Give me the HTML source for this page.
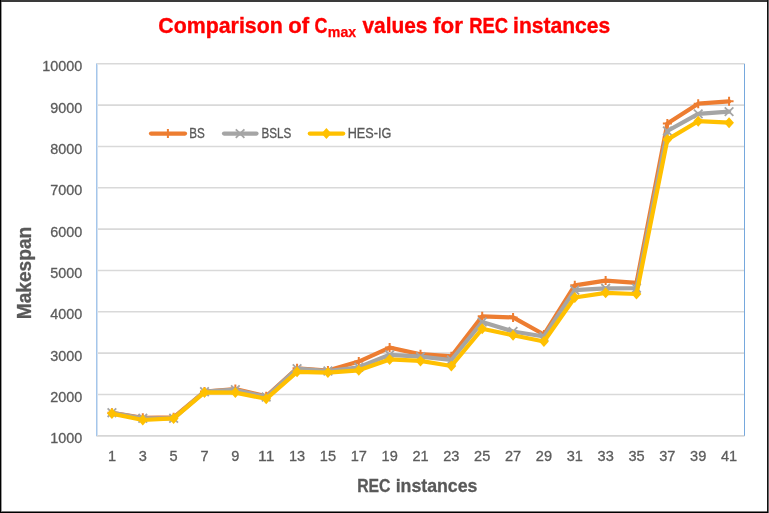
<!DOCTYPE html>
<html><head><meta charset="utf-8"><title>Comparison of Cmax values for REC instances</title>
<style>
html,body{margin:0;padding:0;background:#fff;}
body{width:769px;height:513px;overflow:hidden;}
svg{display:block;}
text{font-family:"Liberation Sans",Arial,sans-serif;}
</style></head><body>
<svg width="769" height="513" viewBox="0 0 769 513">
<rect x="0" y="0" width="769" height="513" fill="#ffffff"/>

<line x1="96.5" y1="394.47" x2="744.5" y2="394.47" stroke="#D9D9D9" stroke-width="1.6"/>
<line x1="96.5" y1="353.13" x2="744.5" y2="353.13" stroke="#D9D9D9" stroke-width="1.6"/>
<line x1="96.5" y1="311.80" x2="744.5" y2="311.80" stroke="#D9D9D9" stroke-width="1.6"/>
<line x1="96.5" y1="270.47" x2="744.5" y2="270.47" stroke="#D9D9D9" stroke-width="1.6"/>
<line x1="96.5" y1="229.13" x2="744.5" y2="229.13" stroke="#D9D9D9" stroke-width="1.6"/>
<line x1="96.5" y1="187.80" x2="744.5" y2="187.80" stroke="#D9D9D9" stroke-width="1.6"/>
<line x1="96.5" y1="146.47" x2="744.5" y2="146.47" stroke="#D9D9D9" stroke-width="1.6"/>
<line x1="96.5" y1="105.13" x2="744.5" y2="105.13" stroke="#D9D9D9" stroke-width="1.6"/>
<line x1="96.5" y1="63.80" x2="744.5" y2="63.80" stroke="#D9D9D9" stroke-width="1.6"/>
<line x1="96.5" y1="435.80" x2="744.5" y2="435.80" stroke="#D6D6D6" stroke-width="1.8"/>
<rect x="96" y="63.50" width="1" height="372.60" fill="#A4C6EB"/>
<rect x="97" y="64.30" width="1" height="371.00" fill="#D3E1F1"/>
<rect x="744" y="63.80" width="1" height="372.00" fill="#76A8DD"/>
<text x="82.2" y="443.30" font-size="15" fill="#5C5C5C" stroke="#5C5C5C" stroke-width="0.3" text-anchor="end" textLength="32.00" lengthAdjust="spacingAndGlyphs">1000</text>
<text x="82.2" y="401.97" font-size="15" fill="#5C5C5C" stroke="#5C5C5C" stroke-width="0.3" text-anchor="end" textLength="32.00" lengthAdjust="spacingAndGlyphs">2000</text>
<text x="82.2" y="360.63" font-size="15" fill="#5C5C5C" stroke="#5C5C5C" stroke-width="0.3" text-anchor="end" textLength="32.00" lengthAdjust="spacingAndGlyphs">3000</text>
<text x="82.2" y="319.30" font-size="15" fill="#5C5C5C" stroke="#5C5C5C" stroke-width="0.3" text-anchor="end" textLength="32.00" lengthAdjust="spacingAndGlyphs">4000</text>
<text x="82.2" y="277.97" font-size="15" fill="#5C5C5C" stroke="#5C5C5C" stroke-width="0.3" text-anchor="end" textLength="32.00" lengthAdjust="spacingAndGlyphs">5000</text>
<text x="82.2" y="236.63" font-size="15" fill="#5C5C5C" stroke="#5C5C5C" stroke-width="0.3" text-anchor="end" textLength="32.00" lengthAdjust="spacingAndGlyphs">6000</text>
<text x="82.2" y="195.30" font-size="15" fill="#5C5C5C" stroke="#5C5C5C" stroke-width="0.3" text-anchor="end" textLength="32.00" lengthAdjust="spacingAndGlyphs">7000</text>
<text x="82.2" y="153.97" font-size="15" fill="#5C5C5C" stroke="#5C5C5C" stroke-width="0.3" text-anchor="end" textLength="32.00" lengthAdjust="spacingAndGlyphs">8000</text>
<text x="82.2" y="112.63" font-size="15" fill="#5C5C5C" stroke="#5C5C5C" stroke-width="0.3" text-anchor="end" textLength="32.00" lengthAdjust="spacingAndGlyphs">9000</text>
<text x="82.2" y="71.30" font-size="15" fill="#5C5C5C" stroke="#5C5C5C" stroke-width="0.3" text-anchor="end" textLength="40.00" lengthAdjust="spacingAndGlyphs">10000</text>
<text x="111.93" y="460.5" font-size="15" fill="#5C5C5C" stroke="#5C5C5C" stroke-width="0.3" text-anchor="middle" textLength="8.10" lengthAdjust="spacingAndGlyphs">1</text>
<text x="142.79" y="460.5" font-size="15" fill="#5C5C5C" stroke="#5C5C5C" stroke-width="0.3" text-anchor="middle" textLength="8.10" lengthAdjust="spacingAndGlyphs">3</text>
<text x="173.64" y="460.5" font-size="15" fill="#5C5C5C" stroke="#5C5C5C" stroke-width="0.3" text-anchor="middle" textLength="8.10" lengthAdjust="spacingAndGlyphs">5</text>
<text x="204.50" y="460.5" font-size="15" fill="#5C5C5C" stroke="#5C5C5C" stroke-width="0.3" text-anchor="middle" textLength="8.10" lengthAdjust="spacingAndGlyphs">7</text>
<text x="235.36" y="460.5" font-size="15" fill="#5C5C5C" stroke="#5C5C5C" stroke-width="0.3" text-anchor="middle" textLength="8.10" lengthAdjust="spacingAndGlyphs">9</text>
<text x="266.21" y="460.5" font-size="15" fill="#5C5C5C" stroke="#5C5C5C" stroke-width="0.3" text-anchor="middle" textLength="16.20" lengthAdjust="spacingAndGlyphs">11</text>
<text x="297.07" y="460.5" font-size="15" fill="#5C5C5C" stroke="#5C5C5C" stroke-width="0.3" text-anchor="middle" textLength="16.20" lengthAdjust="spacingAndGlyphs">13</text>
<text x="327.93" y="460.5" font-size="15" fill="#5C5C5C" stroke="#5C5C5C" stroke-width="0.3" text-anchor="middle" textLength="16.20" lengthAdjust="spacingAndGlyphs">15</text>
<text x="358.79" y="460.5" font-size="15" fill="#5C5C5C" stroke="#5C5C5C" stroke-width="0.3" text-anchor="middle" textLength="16.20" lengthAdjust="spacingAndGlyphs">17</text>
<text x="389.64" y="460.5" font-size="15" fill="#5C5C5C" stroke="#5C5C5C" stroke-width="0.3" text-anchor="middle" textLength="16.20" lengthAdjust="spacingAndGlyphs">19</text>
<text x="420.50" y="460.5" font-size="15" fill="#5C5C5C" stroke="#5C5C5C" stroke-width="0.3" text-anchor="middle" textLength="16.20" lengthAdjust="spacingAndGlyphs">21</text>
<text x="451.36" y="460.5" font-size="15" fill="#5C5C5C" stroke="#5C5C5C" stroke-width="0.3" text-anchor="middle" textLength="16.20" lengthAdjust="spacingAndGlyphs">23</text>
<text x="482.21" y="460.5" font-size="15" fill="#5C5C5C" stroke="#5C5C5C" stroke-width="0.3" text-anchor="middle" textLength="16.20" lengthAdjust="spacingAndGlyphs">25</text>
<text x="513.07" y="460.5" font-size="15" fill="#5C5C5C" stroke="#5C5C5C" stroke-width="0.3" text-anchor="middle" textLength="16.20" lengthAdjust="spacingAndGlyphs">27</text>
<text x="543.93" y="460.5" font-size="15" fill="#5C5C5C" stroke="#5C5C5C" stroke-width="0.3" text-anchor="middle" textLength="16.20" lengthAdjust="spacingAndGlyphs">29</text>
<text x="574.79" y="460.5" font-size="15" fill="#5C5C5C" stroke="#5C5C5C" stroke-width="0.3" text-anchor="middle" textLength="16.20" lengthAdjust="spacingAndGlyphs">31</text>
<text x="605.64" y="460.5" font-size="15" fill="#5C5C5C" stroke="#5C5C5C" stroke-width="0.3" text-anchor="middle" textLength="16.20" lengthAdjust="spacingAndGlyphs">33</text>
<text x="636.50" y="460.5" font-size="15" fill="#5C5C5C" stroke="#5C5C5C" stroke-width="0.3" text-anchor="middle" textLength="16.20" lengthAdjust="spacingAndGlyphs">35</text>
<text x="667.36" y="460.5" font-size="15" fill="#5C5C5C" stroke="#5C5C5C" stroke-width="0.3" text-anchor="middle" textLength="16.20" lengthAdjust="spacingAndGlyphs">37</text>
<text x="698.21" y="460.5" font-size="15" fill="#5C5C5C" stroke="#5C5C5C" stroke-width="0.3" text-anchor="middle" textLength="16.20" lengthAdjust="spacingAndGlyphs">39</text>
<text x="729.07" y="460.5" font-size="15" fill="#5C5C5C" stroke="#5C5C5C" stroke-width="0.3" text-anchor="middle" textLength="16.20" lengthAdjust="spacingAndGlyphs">41</text>
<polyline points="111.93,412.80 142.79,417.80 173.64,417.30 204.50,391.50 235.36,389.10 266.21,396.30 297.07,368.30 327.93,370.50 358.79,361.60 389.64,347.60 420.50,354.20 451.36,356.30 482.21,316.30 513.07,317.40 543.93,334.50 574.79,285.30 605.64,280.60 636.50,282.80 667.36,123.60 698.21,103.70 729.07,101.30" fill="none" stroke="#ED7D31" stroke-width="4.2" stroke-linejoin="round" stroke-linecap="round"/>
<path d="M107.43 412.80H116.43M111.93 408.30V417.30" stroke="#ED7D31" stroke-width="2.0" fill="none"/>
<path d="M138.29 417.80H147.29M142.79 413.30V422.30" stroke="#ED7D31" stroke-width="2.0" fill="none"/>
<path d="M169.14 417.30H178.14M173.64 412.80V421.80" stroke="#ED7D31" stroke-width="2.0" fill="none"/>
<path d="M200.00 391.50H209.00M204.50 387.00V396.00" stroke="#ED7D31" stroke-width="2.0" fill="none"/>
<path d="M230.86 389.10H239.86M235.36 384.60V393.60" stroke="#ED7D31" stroke-width="2.0" fill="none"/>
<path d="M261.71 396.30H270.71M266.21 391.80V400.80" stroke="#ED7D31" stroke-width="2.0" fill="none"/>
<path d="M292.57 368.30H301.57M297.07 363.80V372.80" stroke="#ED7D31" stroke-width="2.0" fill="none"/>
<path d="M323.43 370.50H332.43M327.93 366.00V375.00" stroke="#ED7D31" stroke-width="2.0" fill="none"/>
<path d="M354.29 361.60H363.29M358.79 357.10V366.10" stroke="#ED7D31" stroke-width="2.0" fill="none"/>
<path d="M385.14 347.60H394.14M389.64 343.10V352.10" stroke="#ED7D31" stroke-width="2.0" fill="none"/>
<path d="M416.00 354.20H425.00M420.50 349.70V358.70" stroke="#ED7D31" stroke-width="2.0" fill="none"/>
<path d="M446.86 356.30H455.86M451.36 351.80V360.80" stroke="#ED7D31" stroke-width="2.0" fill="none"/>
<path d="M477.71 316.30H486.71M482.21 311.80V320.80" stroke="#ED7D31" stroke-width="2.0" fill="none"/>
<path d="M508.57 317.40H517.57M513.07 312.90V321.90" stroke="#ED7D31" stroke-width="2.0" fill="none"/>
<path d="M539.43 334.50H548.43M543.93 330.00V339.00" stroke="#ED7D31" stroke-width="2.0" fill="none"/>
<path d="M570.29 285.30H579.29M574.79 280.80V289.80" stroke="#ED7D31" stroke-width="2.0" fill="none"/>
<path d="M601.14 280.60H610.14M605.64 276.10V285.10" stroke="#ED7D31" stroke-width="2.0" fill="none"/>
<path d="M632.00 282.80H641.00M636.50 278.30V287.30" stroke="#ED7D31" stroke-width="2.0" fill="none"/>
<path d="M662.86 123.60H671.86M667.36 119.10V128.10" stroke="#ED7D31" stroke-width="2.0" fill="none"/>
<path d="M693.71 103.70H702.71M698.21 99.20V108.20" stroke="#ED7D31" stroke-width="2.0" fill="none"/>
<path d="M724.57 101.30H733.57M729.07 96.80V105.80" stroke="#ED7D31" stroke-width="2.0" fill="none"/>
<polyline points="111.93,412.70 142.79,418.30 173.64,418.30 204.50,391.70 235.36,389.70 266.21,397.00 297.07,368.60 327.93,371.00 358.79,367.30 389.64,354.80 420.50,356.60 451.36,360.00 482.21,322.00 513.07,331.50 543.93,336.50 574.79,290.20 605.64,288.30 636.50,288.20 667.36,131.00 698.21,113.90 729.07,111.60" fill="none" stroke="#A5A5A5" stroke-width="4.2" stroke-linejoin="round" stroke-linecap="round"/>
<path d="M107.63 408.40L116.23 417.00M107.63 417.00L116.23 408.40" stroke="#A5A5A5" stroke-width="1.8" fill="none"/>
<path d="M138.49 414.00L147.09 422.60M138.49 422.60L147.09 414.00" stroke="#A5A5A5" stroke-width="1.8" fill="none"/>
<path d="M169.34 414.00L177.94 422.60M169.34 422.60L177.94 414.00" stroke="#A5A5A5" stroke-width="1.8" fill="none"/>
<path d="M200.20 387.40L208.80 396.00M200.20 396.00L208.80 387.40" stroke="#A5A5A5" stroke-width="1.8" fill="none"/>
<path d="M231.06 385.40L239.66 394.00M231.06 394.00L239.66 385.40" stroke="#A5A5A5" stroke-width="1.8" fill="none"/>
<path d="M261.91 392.70L270.51 401.30M261.91 401.30L270.51 392.70" stroke="#A5A5A5" stroke-width="1.8" fill="none"/>
<path d="M292.77 364.30L301.37 372.90M292.77 372.90L301.37 364.30" stroke="#A5A5A5" stroke-width="1.8" fill="none"/>
<path d="M323.63 366.70L332.23 375.30M323.63 375.30L332.23 366.70" stroke="#A5A5A5" stroke-width="1.8" fill="none"/>
<path d="M354.49 363.00L363.09 371.60M354.49 371.60L363.09 363.00" stroke="#A5A5A5" stroke-width="1.8" fill="none"/>
<path d="M385.34 350.50L393.94 359.10M385.34 359.10L393.94 350.50" stroke="#A5A5A5" stroke-width="1.8" fill="none"/>
<path d="M416.20 352.30L424.80 360.90M416.20 360.90L424.80 352.30" stroke="#A5A5A5" stroke-width="1.8" fill="none"/>
<path d="M447.06 355.70L455.66 364.30M447.06 364.30L455.66 355.70" stroke="#A5A5A5" stroke-width="1.8" fill="none"/>
<path d="M477.91 317.70L486.51 326.30M477.91 326.30L486.51 317.70" stroke="#A5A5A5" stroke-width="1.8" fill="none"/>
<path d="M508.77 327.20L517.37 335.80M508.77 335.80L517.37 327.20" stroke="#A5A5A5" stroke-width="1.8" fill="none"/>
<path d="M539.63 332.20L548.23 340.80M539.63 340.80L548.23 332.20" stroke="#A5A5A5" stroke-width="1.8" fill="none"/>
<path d="M570.49 285.90L579.09 294.50M570.49 294.50L579.09 285.90" stroke="#A5A5A5" stroke-width="1.8" fill="none"/>
<path d="M601.34 284.00L609.94 292.60M601.34 292.60L609.94 284.00" stroke="#A5A5A5" stroke-width="1.8" fill="none"/>
<path d="M632.20 283.90L640.80 292.50M632.20 292.50L640.80 283.90" stroke="#A5A5A5" stroke-width="1.8" fill="none"/>
<path d="M663.06 126.70L671.66 135.30M663.06 135.30L671.66 126.70" stroke="#A5A5A5" stroke-width="1.8" fill="none"/>
<path d="M693.91 109.60L702.51 118.20M693.91 118.20L702.51 109.60" stroke="#A5A5A5" stroke-width="1.8" fill="none"/>
<path d="M724.77 107.30L733.37 115.90M724.77 115.90L733.37 107.30" stroke="#A5A5A5" stroke-width="1.8" fill="none"/>
<polyline points="111.93,413.60 142.79,420.00 173.64,418.40 204.50,392.40 235.36,392.60 266.21,398.80 297.07,371.80 327.93,372.60 358.79,370.30 389.64,359.40 420.50,360.90 451.36,366.00 482.21,328.80 513.07,335.30 543.93,341.50 574.79,297.50 605.64,292.80 636.50,294.00 667.36,139.60 698.21,121.20 729.07,122.70" fill="none" stroke="#FFC000" stroke-width="4.2" stroke-linejoin="round" stroke-linecap="round"/>
<path d="M111.93 408.10L116.83 413.60L111.93 419.10L107.03 413.60Z" fill="#FFC000"/>
<path d="M142.79 414.50L147.69 420.00L142.79 425.50L137.89 420.00Z" fill="#FFC000"/>
<path d="M173.64 412.90L178.54 418.40L173.64 423.90L168.74 418.40Z" fill="#FFC000"/>
<path d="M204.50 386.90L209.40 392.40L204.50 397.90L199.60 392.40Z" fill="#FFC000"/>
<path d="M235.36 387.10L240.26 392.60L235.36 398.10L230.46 392.60Z" fill="#FFC000"/>
<path d="M266.21 393.30L271.11 398.80L266.21 404.30L261.31 398.80Z" fill="#FFC000"/>
<path d="M297.07 366.30L301.97 371.80L297.07 377.30L292.17 371.80Z" fill="#FFC000"/>
<path d="M327.93 367.10L332.83 372.60L327.93 378.10L323.03 372.60Z" fill="#FFC000"/>
<path d="M358.79 364.80L363.69 370.30L358.79 375.80L353.89 370.30Z" fill="#FFC000"/>
<path d="M389.64 353.90L394.54 359.40L389.64 364.90L384.74 359.40Z" fill="#FFC000"/>
<path d="M420.50 355.40L425.40 360.90L420.50 366.40L415.60 360.90Z" fill="#FFC000"/>
<path d="M451.36 360.50L456.26 366.00L451.36 371.50L446.46 366.00Z" fill="#FFC000"/>
<path d="M482.21 323.30L487.11 328.80L482.21 334.30L477.31 328.80Z" fill="#FFC000"/>
<path d="M513.07 329.80L517.97 335.30L513.07 340.80L508.17 335.30Z" fill="#FFC000"/>
<path d="M543.93 336.00L548.83 341.50L543.93 347.00L539.03 341.50Z" fill="#FFC000"/>
<path d="M574.79 292.00L579.69 297.50L574.79 303.00L569.89 297.50Z" fill="#FFC000"/>
<path d="M605.64 287.30L610.54 292.80L605.64 298.30L600.74 292.80Z" fill="#FFC000"/>
<path d="M636.50 288.50L641.40 294.00L636.50 299.50L631.60 294.00Z" fill="#FFC000"/>
<path d="M667.36 134.10L672.26 139.60L667.36 145.10L662.46 139.60Z" fill="#FFC000"/>
<path d="M698.21 115.70L703.11 121.20L698.21 126.70L693.31 121.20Z" fill="#FFC000"/>
<path d="M729.07 117.20L733.97 122.70L729.07 128.20L724.17 122.70Z" fill="#FFC000"/>
<line x1="151" y1="133.6" x2="185" y2="133.6" stroke="#ED7D31" stroke-width="4.2" stroke-linecap="round"/>
<path d="M163.40 133.60H172.40M167.90 129.10V138.10" stroke="#ED7D31" stroke-width="2.0" fill="none"/>
<line x1="224" y1="133.6" x2="256.5" y2="133.6" stroke="#A5A5A5" stroke-width="4.2" stroke-linecap="round"/>
<path d="M235.80 129.30L244.40 137.90M235.80 137.90L244.40 129.30" stroke="#A5A5A5" stroke-width="1.8" fill="none"/>
<line x1="309.8" y1="133.6" x2="343.2" y2="133.6" stroke="#FFC000" stroke-width="4.2" stroke-linecap="round"/>
<path d="M326.40 128.10L331.30 133.60L326.40 139.10L321.50 133.60Z" fill="#FFC000"/>
<text x="158.35" y="33.4" font-size="21.8" font-weight="bold" fill="#FF0000" textLength="124.39" lengthAdjust="spacingAndGlyphs" stroke="#FF0000" stroke-width="0.35">Comparison</text>
<text x="288.15" y="33.4" font-size="21.8" font-weight="bold" fill="#FF0000" textLength="20.9" lengthAdjust="spacingAndGlyphs" stroke="#FF0000" stroke-width="0.35">of</text>
<text x="314.55" y="33.4" font-size="21.8" font-weight="bold" fill="#FF0000" textLength="12.97" lengthAdjust="spacingAndGlyphs" stroke="#FF0000" stroke-width="0.35">C</text>
<text x="362.4" y="33.4" font-size="21.8" font-weight="bold" fill="#FF0000" textLength="65.11" lengthAdjust="spacingAndGlyphs" stroke="#FF0000" stroke-width="0.35">values</text>
<text x="433.05" y="33.4" font-size="21.8" font-weight="bold" fill="#FF0000" textLength="29.86" lengthAdjust="spacingAndGlyphs" stroke="#FF0000" stroke-width="0.35">for</text>
<text x="469.25" y="33.4" font-size="21.8" font-weight="bold" fill="#FF0000" textLength="38.9" lengthAdjust="spacingAndGlyphs" stroke="#FF0000" stroke-width="0.35">REC</text>
<text x="513.1" y="33.4" font-size="21.8" font-weight="bold" fill="#FF0000" textLength="97.11" lengthAdjust="spacingAndGlyphs" stroke="#FF0000" stroke-width="0.35">instances</text>
<text x="327.85" y="37.3" font-size="15" font-weight="bold" fill="#FF0000" textLength="28.34" lengthAdjust="spacingAndGlyphs" stroke="#FF0000" stroke-width="0.25">max</text>
<text x="189.3" y="137.6" font-size="14.2" fill="#595959" stroke="#595959" stroke-width="0.3" textLength="15.56" lengthAdjust="spacingAndGlyphs">BS</text>
<text x="261.55" y="137.6" font-size="14.2" fill="#595959" stroke="#595959" stroke-width="0.3" textLength="29.8" lengthAdjust="spacingAndGlyphs">BSLS</text>
<text x="347.7" y="137.6" font-size="14.2" fill="#595959" stroke="#595959" stroke-width="0.3" textLength="43.62" lengthAdjust="spacingAndGlyphs">HES-IG</text>
<text x="357.2" y="491.6" font-size="18.5" font-weight="bold" fill="#595959" stroke="#595959" stroke-width="0.3" textLength="33.33" lengthAdjust="spacingAndGlyphs">REC</text>
<text x="395.65" y="491.6" font-size="18.5" font-weight="bold" fill="#595959" stroke="#595959" stroke-width="0.3" textLength="81.83" lengthAdjust="spacingAndGlyphs">instances</text>
<text transform="translate(30.9 319.25) rotate(-90)" x="0" y="0" font-size="20" font-weight="bold" fill="#595959" stroke="#595959" stroke-width="0.3" textLength="92.52" lengthAdjust="spacingAndGlyphs">Makespan</text>
<rect x="0" y="0" width="769" height="2" fill="#3A3A3A"/>
<rect x="0" y="0" width="1" height="513" fill="#000"/>
<rect x="1" y="2" width="1" height="509" fill="#9A9A9A"/>
<rect x="768" y="0" width="1" height="513" fill="#666"/>
<rect x="767" y="0" width="1" height="513" fill="#111"/>
<rect x="1" y="511" width="766" height="1" fill="#7A7A7A"/>
<rect x="0" y="512" width="768" height="1" fill="#000"/>
</svg>
</body></html>
